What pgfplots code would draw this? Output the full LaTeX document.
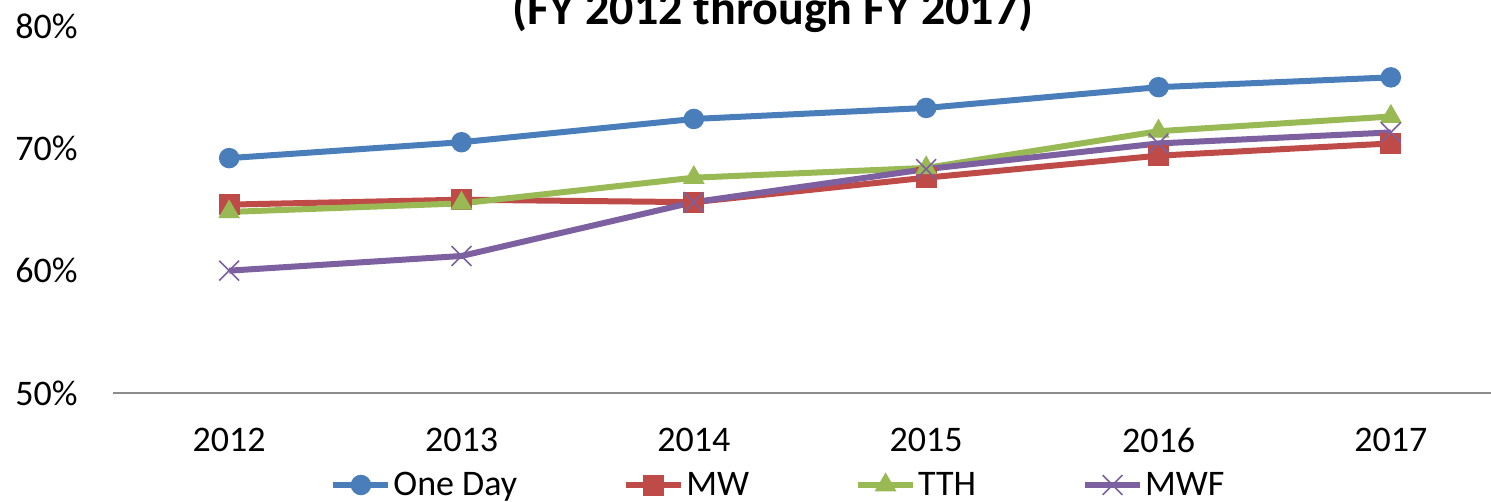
\documentclass[border=0pt]{standalone}
\usepackage{fontspec}
\setmainfont{Carlito}
\usepackage{pgfplots}
\pgfplotsset{compat=1.18}

\definecolor{oneday}{HTML}{4A7EBB}
\definecolor{mw}{HTML}{BE4B48}
\definecolor{tth}{HTML}{98B954}
\definecolor{mwf}{HTML}{7D60A0}
\definecolor{axisgray}{HTML}{8C8C8C}

\begin{document}
\begin{tikzpicture}[x=1pt,y=1pt]
\begin{axis}[
    at={(0,0)}, anchor=south west,
    scale only axis,
    width=697pt, height=183.5pt,
    xmin=-0.5, xmax=5.5,
    ymin=50, ymax=80,
    xtick={0,1,2,3,4,5},
    xticklabels={2012,2013,2014,2015,2016,2017},
    ytick={50,60,70,80},
    yticklabels={50\%,60\%,70\%,80\%},
    major tick length=0pt,
    axis line style={draw=none},
    tick style={draw=none},
    ticklabel style={font=\fontsize{18}{21}\selectfont, inner sep=0pt},
    yticklabel style={xshift=-17.5pt},
    xticklabel style={yshift=-17.5pt},
    /pgf/number format/assume math mode=true,
    clip=false,
    legend columns=4,
    legend style={
        at={(0.1557,-0.2507)}, anchor=west,
        draw=none, fill=none, inner sep=0pt,
        font=\fontsize{18}{21}\selectfont,
        nodes={inner sep=1pt},
        /tikz/every even column/.append style={column sep=52pt},
    },
    legend image code/.code={
        \draw[mark repeat=2,mark phase=2] plot coordinates {(0pt,0pt)(13.75pt,0pt)(27.5pt,0pt)};
    },
    every axis plot/.append style={line width=3pt},
]
\draw[axisgray, line width=0.75pt] (rel axis cs:0,0) -- (rel axis cs:1,0);

\addplot[oneday, mark=*, mark size=3.6pt, mark options={solid, fill=oneday}] coordinates {
    (0,69.2) (1,70.5) (2,72.4) (3,73.3) (4,75.0) (5,75.8)
};
\addlegendentry{One Day}
\addplot[mw, mark=square*, mark size=5pt, mark options={solid, fill=mw, line width=0.5pt}] coordinates {
    (0,65.4) (1,65.8) (2,65.6) (3,67.6) (4,69.4) (5,70.4)
};
\addlegendentry{MW}
\addplot[tth, mark=triangle*, mark size=5.8pt, mark options={solid, fill=tth, line width=0.5pt}] coordinates {
    (0,64.8) (1,65.5) (2,67.6) (3,68.4) (4,71.4) (5,72.6)
};
\addlegendentry{TTH}
\addplot[mwf, mark=x, mark size=7pt, mark options={solid, line width=0.8pt}] coordinates {
    (0,60.0) (1,61.2) (2,65.6) (3,68.3) (4,70.4) (5,71.3)
};
\addlegendentry{MWF}
\end{axis}
\node[font=\bfseries\fontsize{24}{28}\selectfont, anchor=base] at (330,184) {(FY 2012 through FY 2017)};
\pgfresetboundingbox
\path[use as bounding box] (-56.5,-54.5) rectangle (689,196.5);
\end{tikzpicture}
\end{document}
